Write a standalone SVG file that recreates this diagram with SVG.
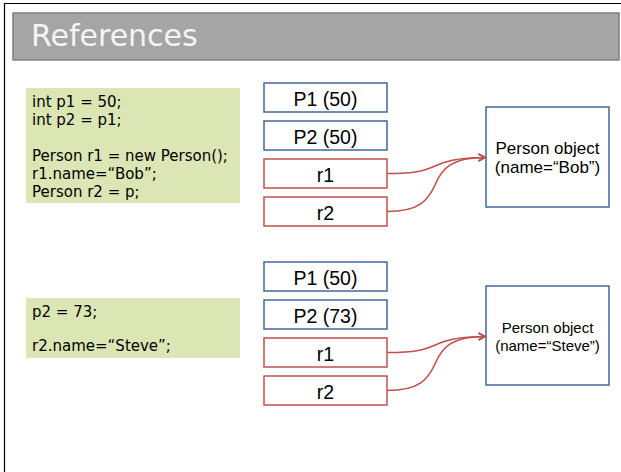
<svg xmlns="http://www.w3.org/2000/svg" width="621" height="472" viewBox="0 0 621 472">
  <defs>
    <style>
      .frame { fill: #ffffff; stroke: #000000; stroke-width: 1.2; }
      .title-bar { fill: #a5a5a5; stroke: #808080; stroke-width: 1.5; }
      .title { font-family: "DejaVu Sans", sans-serif; font-size: 30px; fill: #f4f4f4; }
      .code-bg { fill: #dce6b5; }
      .code { font-family: "DejaVu Sans", sans-serif; font-size: 15px; fill: #000000; }
      .var { fill: #ffffff; stroke: #41679a; stroke-width: 1.5; }
      .ref { fill: #ffffff; stroke: #c0504d; stroke-width: 1.5; }
      .obj { fill: #ffffff; stroke: #41679a; stroke-width: 1.5; }
      .label { font-family: "Liberation Sans", Arial, sans-serif; font-size: 19.5px; fill: #000000; text-anchor: middle; }
      .obj-label { font-family: "Liberation Sans", Arial, sans-serif; font-size: 17px; fill: #000000; text-anchor: middle; }
      .obj-label-sm { font-family: "Liberation Sans", Arial, sans-serif; font-size: 15px; fill: #000000; text-anchor: middle; }
      .link { fill: none; stroke: #c0504d; stroke-width: 1.6; marker-end: url(#open-arrow); }
    </style>
    <marker id="open-arrow" markerWidth="10" markerHeight="10" refX="7.5" refY="5" orient="auto" markerUnits="userSpaceOnUse">
      <path d="M1,1.5 L7.5,5 L1,8.5" fill="none" stroke="#c0504d" stroke-width="1.6"/>
    </marker>
  </defs>

  <!-- slide frame and title -->
  <path class="frame" d="M4.5,472 V3.5 H621"/>
  <rect class="title-bar" x="13" y="13" width="606" height="47"/>
  <text class="title" x="31" y="45.5">References</text>

  <!-- first state -->
  <g id="code1">
    <rect class="code-bg" x="26" y="88" width="214" height="115"/>
    <text class="code" x="32" y="107">int p1 = 50;</text>
    <text class="code" x="32" y="125">int p2 = p1;</text>
    <text class="code" x="32" y="161">Person r1 = new Person();</text>
    <text class="code" x="32" y="179">r1.name=“Bob”;</text>
    <text class="code" x="32" y="197">Person r2 = p;</text>
  </g>
  <g id="p1-a">
    <rect class="var" x="264" y="83" width="123" height="29"/>
    <text class="label" x="325.5" y="106">P1 (50)</text>
  </g>
  <g id="p2-a">
    <rect class="var" x="264" y="121" width="123" height="29"/>
    <text class="label" x="325.5" y="144">P2 (50)</text>
  </g>
  <g id="r1-a">
    <rect class="ref" x="264" y="159" width="123" height="29"/>
    <text class="label" x="325.5" y="182">r1</text>
  </g>
  <g id="r2-a">
    <rect class="ref" x="264" y="197" width="123" height="29"/>
    <text class="label" x="325.5" y="220">r2</text>
  </g>
  <g id="person-a">
    <rect class="obj" x="486" y="107" width="123" height="100"/>
    <text class="obj-label" x="547.5" y="154">Person object</text>
    <text class="obj-label" x="547.5" y="173">(name=“Bob”)</text>
  </g>

  <!-- second state -->
  <g id="code2">
    <rect class="code-bg" x="26" y="298" width="214" height="60"/>
    <text class="code" x="32" y="317">p2 = 73;</text>
    <text class="code" x="32" y="351">r2.name=“Steve”;</text>
  </g>
  <g id="p1-b">
    <rect class="var" x="264" y="262" width="123" height="29"/>
    <text class="label" x="325.5" y="285">P1 (50)</text>
  </g>
  <g id="p2-b">
    <rect class="var" x="264" y="300" width="123" height="29"/>
    <text class="label" x="325.5" y="323">P2 (73)</text>
  </g>
  <g id="r1-b">
    <rect class="ref" x="264" y="338" width="123" height="29"/>
    <text class="label" x="325.5" y="361">r1</text>
  </g>
  <g id="r2-b">
    <rect class="ref" x="264" y="376" width="123" height="29"/>
    <text class="label" x="325.5" y="399">r2</text>
  </g>
  <g id="person-b">
    <rect class="obj" x="486" y="286" width="123" height="99"/>
    <text class="obj-label-sm" x="547.5" y="333">Person object</text>
    <text class="obj-label-sm" x="547.5" y="351">(name=“Steve”)</text>
  </g>

  <!-- reference links -->
  <g id="connectors">
    <path class="link" d="M387,173.5 C420,173.5 425,170 440,164 C452,159 465,157.5 485,157.5"/>
    <path class="link" d="M387,211.5 C420,211.5 428,200 435,185 C442,168 452,157.5 485,157.5"/>
    <path class="link" d="M387,352.5 C420,352.5 425,349 440,343 C452,338 465,336.5 485,336.5"/>
    <path class="link" d="M387,390.5 C420,390.5 428,379 435,364 C442,347 452,336.5 485,336.5"/>
  </g>
</svg>
